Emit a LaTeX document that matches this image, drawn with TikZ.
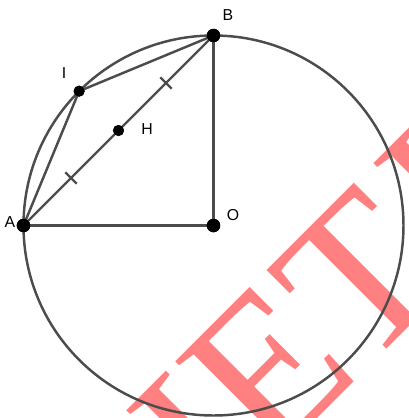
\documentclass[tikz,border=0pt]{standalone}
\usepackage{fontspec}
\setmainfont{Liberation Sans}
\newfontfamily\wmfont{Liberation Serif}
\usetikzlibrary{calc}
\begin{document}
\begin{tikzpicture}[x=1cm,y=1cm,
  seg/.style={line width=1.4pt,black!70},
  bigdot/.style={circle,fill=black,inner sep=0pt,minimum size=0.27cm},
  smalldot/.style={circle,fill=black,inner sep=0pt,minimum size=0.22cm},
  lbl/.style={font=\fontsize{9}{10}\selectfont},
  wm/.style={text=red!50,inner sep=0pt,font=\wmfont\fontsize{122}{122}\selectfont}]
\useasboundingbox (-4.27,-3.85) rectangle (3.91,4.51);
\begin{scope}
\clip (-4.27,-3.85) rectangle (3.91,4.51);
\node[wm,rotate=45,anchor=base west] (mark) at (-2.06,-8.00) {VIETJACK};
\end{scope}
\node[bigdot] (O) at (0,0) {};
\node[bigdot] (A) at (-3.8,0) {};
\node[bigdot] (B) at (0,3.8) {};
\node[smalldot] (I) at (135:3.8) {};
\node[smalldot] (H) at ($(A)!0.5!(B)$) {};
\draw[seg] (O.center) circle (3.8);
\draw[seg] (A.center) -- (O.center) -- (B.center);
\draw[seg] (A.center) -- (H.center) -- (B.center);
\draw[seg] (A.center) -- (I.center) -- (B.center);
% equal marks on AH and HB
\draw[seg] ($(A)!0.25!(B)$) +(135:0.16) -- +(-45:0.16);
\draw[seg] ($(A)!0.75!(B)$) +(135:0.16) -- +(-45:0.16);
\node[bigdot] at (O) {};
\node[bigdot] at (A) {};
\node[bigdot] at (B) {};
\node[smalldot] at (I) {};
\node[smalldot] at (H) {};
\node[lbl] (labA) at (-4.07,0.07) {A};
\node[lbl] (labB) at (0.29,4.21) {B};
\node[lbl] (labO) at (0.39,0.21) {O};
\node[lbl] (labI) at (-2.99,3.05) {I};
\node[lbl] (labH) at (-1.33,1.93) {H};
\end{tikzpicture}
\end{document}
